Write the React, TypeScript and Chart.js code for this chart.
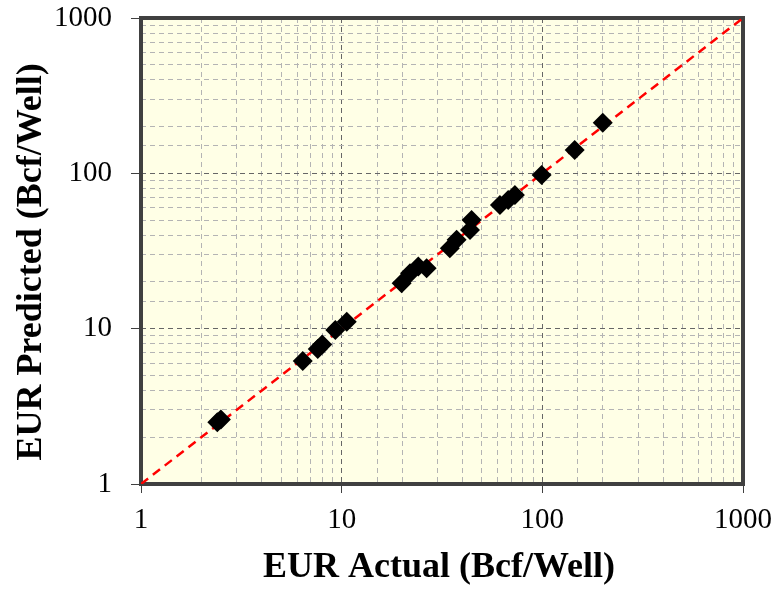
import React, { useEffect, useRef } from 'react';
import { Chart, registerables } from 'chart.js';

Chart.register(...registerables);

const actualEUR = [2.4, 2.5, 6.4, 7.6, 8.0, 9.3, 10.6, 19.9, 21.9, 24.1, 26.5, 34.6, 37.4, 43.6, 44.4, 61.5, 67.6, 73.0, 99.2, 145, 200];
const predictedEUR = [2.5, 2.6, 6.2, 7.4, 7.9, 9.8, 11.1, 19.6, 22.7, 25.1, 24.5, 32.9, 37.3, 43.2, 50.1, 62.6, 67.4, 72.6, 97.7, 141.5, 212];
const parityLine = [1, 1000];
const tickLabels = [1, 10, 100, 1000];
const xTitle = 'EUR Actual (Bcf/Well)';
const yTitle = 'EUR Predicted (Bcf/Well)';

const FONT = "'Liberation Serif', 'Times New Roman', serif";

const isMajor = (v: number) => tickLabels.includes(v);

const framePlugin = {
  id: 'frame',
  beforeDraw(chart: any) {
    const { ctx, chartArea: a } = chart;
    ctx.save();
    ctx.fillStyle = '#FFFFE6';
    ctx.fillRect(a.left, a.top, a.right - a.left, a.bottom - a.top);
    ctx.restore();
  },
  beforeDatasetsDraw(chart: any) {
    const { ctx, chartArea: a } = chart;
    ctx.save();
    ctx.strokeStyle = '#404040';
    ctx.lineWidth = 4;
    ctx.strokeRect(a.left, a.top, a.right - a.left, a.bottom - a.top);
    ctx.restore();
  },
  afterDraw(chart: any) {
    const { ctx, chartArea: a } = chart;
    ctx.save();
    ctx.fillStyle = '#000000';
    ctx.font = `bold 36px ${FONT}`;
    ctx.textAlign = 'center';
    ctx.textBaseline = 'middle';
    ctx.fillText(xTitle, (a.left + a.right) / 2 - 3, chart.height - 26);
    ctx.translate(32, (a.top + a.bottom) / 2 + 11);
    ctx.rotate(-Math.PI / 2);
    ctx.fillText(yTitle, 0, 0);
    ctx.restore();
  },
};

export default function App() {
  const ref = useRef<HTMLCanvasElement>(null);
  useEffect(() => {
    if (!ref.current) return;
    const gridColor = (c: any) => (c.tick && isMajor(c.tick.value) ? '#666666' : '#B4B4B4');
    const tickColor = (c: any) => (c.tick && isMajor(c.tick.value) ? '#404040' : 'rgba(0,0,0,0)');
    const label = (v: any) => (isMajor(Number(v)) ? String(v) : '');
    const chart = new Chart(ref.current, {
      type: 'scatter',
      data: {
        datasets: [
          {
            label: 'Wells',
            data: actualEUR.map((x, i) => ({ x, y: predictedEUR[i] })),
            pointStyle: 'rectRot',
            pointRadius: 10,
            pointBorderWidth: 0,
            backgroundColor: '#000000',
            borderColor: '#000000',
            order: 0,
          },
          {
            label: 'Parity',
            data: parityLine.map((v) => ({ x: v, y: v })),
            showLine: true,
            borderColor: '#FF0000',
            borderWidth: 2.5,
            borderDash: [9, 6],
            pointRadius: 0,
            order: 1,
          },
        ],
      },
      options: {
        animation: false,
        responsive: false,
        layout: { padding: { top: 18, right: 37, bottom: 0, left: 0 } },
        plugins: { legend: { display: false }, tooltip: { enabled: false } },
        scales: {
          x: {
            type: 'logarithmic',
            min: 1,
            max: 1000,
            afterFit: (s: any) => { s.height = 110; s.paddingLeft = 0; s.paddingRight = 0; },
            grid: { color: gridColor, lineWidth: 1, tickColor, tickLength: 9, tickWidth: 1 },
            border: { display: false, dash: [5, 4] },
            ticks: {
              autoSkip: false,
              maxRotation: 0,
              padding: 10,
              color: '#000000',
              font: { family: FONT, size: 29 },
              callback: label,
            },
            title: { display: false, text: xTitle },
          },
          y: {
            type: 'logarithmic',
            min: 1,
            max: 1000,
            afterFit: (s: any) => { s.width = 141; s.paddingTop = 0; s.paddingBottom = 0; },
            grid: { color: gridColor, lineWidth: 1, tickColor, tickLength: 10, tickWidth: 1 },
            border: { display: false, dash: [5, 4] },
            ticks: {
              autoSkip: false,
              padding: 19,
              color: '#000000',
              font: { family: FONT, size: 29 },
              callback: label,
            },
            title: { display: false, text: yTitle },
          },
        },
      },
      plugins: [framePlugin],
    } as any);
    return () => chart.destroy();
  }, []);
  return (
    <div style={{ position: 'absolute', left: 0, top: 0, width: 780, height: 594, background: '#ffffff' }}>
      <canvas ref={ref} width={780} height={594} style={{ width: 780, height: 594, display: 'block' }} />
    </div>
  );
}
